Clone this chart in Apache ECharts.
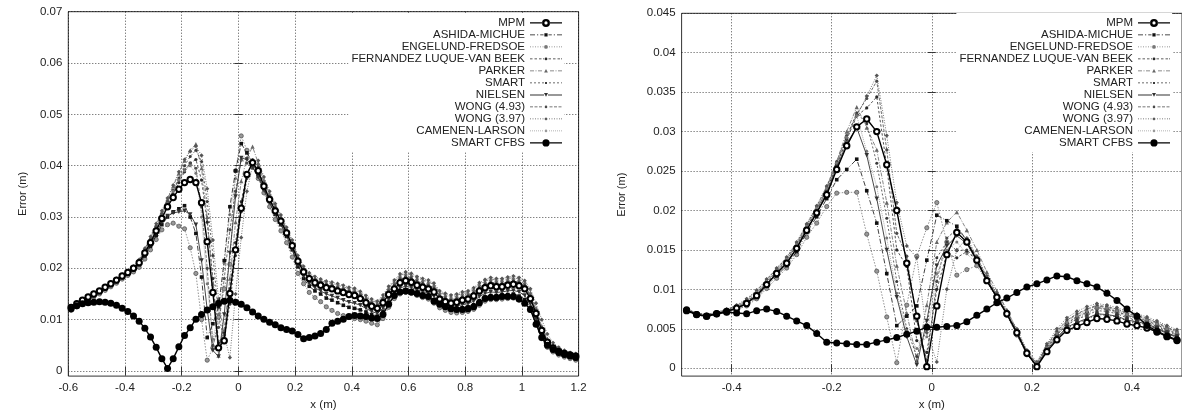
<!DOCTYPE html>
<html><head><meta charset="utf-8">
<script src="https://cdn.jsdelivr.net/npm/echarts@6/dist/echarts.min.js"></script>
<style>html,body{margin:0;padding:0;background:#fff}#c{width:1182px;height:416px}</style>
</head><body><div id="c"></div><script>
// ---------- data ----------
const xLeft = [-0.59,-0.57,-0.55,-0.53,-0.51,-0.49,-0.47,-0.45,-0.43,-0.41,-0.39,-0.37,-0.35,-0.33,-0.31,-0.29,-0.27,-0.25,-0.23,-0.21,-0.19,-0.17,-0.15,-0.13,-0.11,-0.09,-0.07,-0.05,-0.03,-0.01,0.01,0.03,0.05,0.07,0.09,0.11,0.13,0.15,0.17,0.19,0.21,0.23,0.25,0.27,0.29,0.31,0.33,0.35,0.37,0.39,0.41,0.43,0.45,0.47,0.49,0.51,0.53,0.55,0.57,0.59,0.61,0.63,0.65,0.67,0.69,0.71,0.73,0.75,0.77,0.79,0.81,0.83,0.85,0.87,0.89,0.91,0.93,0.95,0.97,0.99,1.01,1.03,1.05,1.07,1.09,1.11,1.13,1.15,1.17,1.19];
const xRight = [-0.49,-0.47,-0.45,-0.43,-0.41,-0.39,-0.37,-0.35,-0.33,-0.31,-0.29,-0.27,-0.25,-0.23,-0.21,-0.19,-0.17,-0.15,-0.13,-0.11,-0.09,-0.07,-0.05,-0.03,-0.01,0.01,0.03,0.05,0.07,0.09,0.11,0.13,0.15,0.17,0.19,0.21,0.23,0.25,0.27,0.29,0.31,0.33,0.35,0.37,0.39,0.41,0.43,0.45,0.47,0.49];

const names = ['MPM','ASHIDA-MICHUE','ENGELUND-FREDSOE','FERNANDEZ LUQUE-VAN BEEK','PARKER','SMART','NIELSEN','WONG (4.93)','WONG (3.97)','CAMENEN-LARSON','SMART CFBS'];

const xTicksLeft = [-0.6,-0.4,-0.2,0,0.2,0.4,0.6,0.8,1,1.2];
const yTicksLeft = [0,0.01,0.02,0.03,0.04,0.05,0.06,0.07];
const xTicksRight = [-0.4,-0.2,0,0.2,0.4];
const yTicksRight = [0,0.005,0.01,0.015,0.02,0.025,0.03,0.035,0.04,0.045];

// left panel
const L_MPM = [0.0124,0.0131,0.0138,0.0144,0.0150,0.0156,0.0163,0.0170,0.0177,0.0185,
0.0192,0.0200,0.0211,0.0230,0.0250,0.0273,0.0297,0.0320,0.0338,0.0354,
0.0367,0.0373,0.0367,0.0328,0.0252,0.0153,0.0045,0.0059,0.0151,0.0236,
0.0317,0.0383,0.0406,0.0390,0.0360,0.0334,0.0312,0.0292,0.0269,0.0244,
0.0214,0.0193,0.0180,0.0172,0.0167,0.0162,0.0160,0.0156,0.0153,0.0149,
0.0147,0.0141,0.0133,0.0126,0.0122,0.0133,0.0149,0.0160,0.0172,0.0176,
0.0173,0.0167,0.0163,0.0160,0.0154,0.0140,0.0135,0.0132,0.0134,0.0138,
0.0140,0.0146,0.0156,0.0162,0.0166,0.0164,0.0164,0.0167,0.0169,0.0166,
0.0160,0.0141,0.0112,0.0079,0.0056,0.0045,0.0038,0.0034,0.0031,0.0029];
const L_ASHIDA = [0.0121,0.0128,0.0135,0.0141,0.0147,0.0153,0.0160,0.0167,0.0174,0.0182,
0.0189,0.0197,0.0207,0.0224,0.0243,0.0264,0.0285,0.0300,0.0310,0.0316,
0.0322,0.0300,0.0268,0.0183,0.0065,0.0092,0.0125,0.0215,0.0320,0.0390,
0.0443,0.0425,0.0405,0.0382,0.0355,0.0330,0.0305,0.0285,0.0262,0.0236,
0.0203,0.0180,0.0165,0.0156,0.0150,0.0142,0.0138,0.0133,0.0128,0.0124,
0.0122,0.0119,0.0115,0.0110,0.0107,0.0116,0.0134,0.0148,0.0156,0.0158,
0.0156,0.0152,0.0149,0.0146,0.0139,0.0130,0.0125,0.0122,0.0122,0.0123,
0.0125,0.0129,0.0137,0.0144,0.0147,0.0147,0.0148,0.0149,0.0150,0.0146,
0.0139,0.0124,0.0096,0.0068,0.0050,0.0040,0.0034,0.0030,0.0027,0.0024];
const L_ENGELUND = [0.0118,0.0125,0.0132,0.0138,0.0144,0.0150,0.0157,0.0164,0.0171,0.0179,
0.0186,0.0193,0.0202,0.0218,0.0236,0.0256,0.0275,0.0285,0.0288,0.0282,
0.0277,0.0240,0.0190,0.0100,0.0021,0.0045,0.0105,0.0160,0.0208,0.0390,
0.0458,0.0430,0.0400,0.0375,0.0347,0.0320,0.0295,0.0273,0.0250,0.0222,
0.0190,0.0170,0.0153,0.0143,0.0135,0.0125,0.0118,0.0112,0.0108,0.0104,
0.0102,0.0100,0.0097,0.0093,0.0090,0.0102,0.0124,0.0141,0.0150,0.0153,
0.0151,0.0147,0.0143,0.0140,0.0132,0.0123,0.0118,0.0114,0.0113,0.0114,
0.0116,0.0120,0.0128,0.0136,0.0139,0.0139,0.0140,0.0141,0.0142,0.0138,
0.0132,0.0118,0.0090,0.0063,0.0046,0.0037,0.0031,0.0027,0.0024,0.0021];
const L_FERNANDEZ = [0.0123,0.0130,0.0137,0.0143,0.0149,0.0155,0.0162,0.0169,0.0176,0.0184,
0.0191,0.0199,0.0210,0.0230,0.0251,0.0275,0.0300,0.0322,0.0345,0.0367,
0.0388,0.0405,0.0412,0.0372,0.0290,0.0180,0.0055,0.0075,0.0160,0.0250,
0.0330,0.0385,0.0403,0.0392,0.0362,0.0336,0.0314,0.0294,0.0271,0.0246,
0.0216,0.0196,0.0183,0.0176,0.0171,0.0166,0.0164,0.0160,0.0157,0.0153,
0.0151,0.0145,0.0137,0.0130,0.0126,0.0138,0.0154,0.0165,0.0177,0.0181,
0.0178,0.0172,0.0168,0.0165,0.0159,0.0144,0.0139,0.0136,0.0138,0.0142,
0.0144,0.0150,0.0160,0.0166,0.0170,0.0168,0.0168,0.0171,0.0173,0.0170,
0.0164,0.0145,0.0115,0.0082,0.0058,0.0047,0.0040,0.0035,0.0032,0.0030];
const L_PARKER = [0.0126,0.0133,0.0140,0.0146,0.0152,0.0158,0.0165,0.0172,0.0179,0.0187,
0.0194,0.0203,0.0216,0.0238,0.0260,0.0285,0.0310,0.0335,0.0360,0.0385,
0.0410,0.0430,0.0442,0.0395,0.0300,0.0170,0.0030,0.0080,0.0180,0.0290,
0.0370,0.0415,0.0437,0.0405,0.0372,0.0345,0.0322,0.0300,0.0277,0.0252,
0.0222,0.0201,0.0188,0.0181,0.0176,0.0172,0.0170,0.0167,0.0164,0.0160,
0.0158,0.0152,0.0144,0.0137,0.0133,0.0145,0.0162,0.0174,0.0186,0.0190,
0.0187,0.0181,0.0177,0.0174,0.0168,0.0153,0.0148,0.0145,0.0147,0.0151,
0.0153,0.0159,0.0169,0.0175,0.0179,0.0177,0.0177,0.0180,0.0182,0.0179,
0.0173,0.0153,0.0123,0.0088,0.0063,0.0051,0.0043,0.0038,0.0035,0.0033];
const L_SMART = [0.0125,0.0132,0.0139,0.0145,0.0151,0.0157,0.0164,0.0171,0.0178,0.0186,
0.0193,0.0201,0.0213,0.0234,0.0255,0.0279,0.0304,0.0328,0.0352,0.0376,
0.0400,0.0418,0.0430,0.0408,0.0330,0.0225,0.0110,0.0060,0.0130,0.0225,
0.0310,0.0375,0.0412,0.0398,0.0366,0.0340,0.0318,0.0297,0.0274,0.0249,
0.0219,0.0198,0.0185,0.0178,0.0173,0.0168,0.0166,0.0162,0.0159,0.0155,
0.0153,0.0147,0.0139,0.0132,0.0128,0.0140,0.0156,0.0168,0.0180,0.0184,
0.0181,0.0175,0.0171,0.0168,0.0162,0.0147,0.0142,0.0139,0.0141,0.0145,
0.0147,0.0153,0.0163,0.0169,0.0173,0.0171,0.0171,0.0174,0.0176,0.0173,
0.0167,0.0147,0.0118,0.0084,0.0060,0.0048,0.0041,0.0036,0.0033,0.0031];
const L_NIELSEN = [0.0122,0.0129,0.0136,0.0142,0.0148,0.0154,0.0161,0.0168,0.0175,0.0183,
0.0190,0.0198,0.0208,0.0226,0.0246,0.0268,0.0290,0.0302,0.0308,0.0310,
0.0312,0.0305,0.0285,0.0215,0.0120,0.0040,0.0028,0.0110,0.0230,0.0340,
0.0415,0.0412,0.0398,0.0378,0.0352,0.0328,0.0305,0.0286,0.0263,0.0238,
0.0206,0.0184,0.0170,0.0162,0.0156,0.0150,0.0146,0.0142,0.0138,0.0134,
0.0132,0.0128,0.0122,0.0116,0.0112,0.0122,0.0139,0.0152,0.0162,0.0165,
0.0163,0.0158,0.0155,0.0152,0.0145,0.0134,0.0129,0.0126,0.0127,0.0129,
0.0131,0.0136,0.0145,0.0151,0.0154,0.0153,0.0154,0.0156,0.0157,0.0154,
0.0147,0.0130,0.0102,0.0072,0.0052,0.0042,0.0036,0.0032,0.0029,0.0026];
const L_WONG493 = [0.0125,0.0132,0.0139,0.0145,0.0151,0.0157,0.0164,0.0171,0.0178,0.0186,
0.0193,0.0202,0.0214,0.0235,0.0257,0.0282,0.0306,0.0330,0.0352,0.0372,
0.0392,0.0405,0.0395,0.0320,0.0200,0.0050,0.0085,0.0180,0.0275,0.0350,
0.0412,0.0405,0.0395,0.0378,0.0358,0.0334,0.0312,0.0293,0.0270,0.0246,
0.0217,0.0197,0.0184,0.0177,0.0172,0.0167,0.0165,0.0161,0.0158,0.0154,
0.0152,0.0146,0.0138,0.0131,0.0127,0.0139,0.0155,0.0166,0.0178,0.0182,
0.0179,0.0173,0.0169,0.0166,0.0160,0.0145,0.0140,0.0137,0.0139,0.0143,
0.0145,0.0151,0.0161,0.0167,0.0171,0.0169,0.0169,0.0172,0.0174,0.0171,
0.0165,0.0146,0.0116,0.0083,0.0059,0.0048,0.0041,0.0036,0.0033,0.0030];
const L_WONG397 = [0.0126,0.0133,0.0140,0.0146,0.0152,0.0158,0.0165,0.0172,0.0180,0.0188,
0.0195,0.0204,0.0217,0.0239,0.0262,0.0287,0.0312,0.0337,0.0362,0.0388,
0.0412,0.0428,0.0438,0.0420,0.0355,0.0255,0.0140,0.0070,0.0026,0.0150,
0.0260,0.0350,0.0400,0.0410,0.0378,0.0350,0.0326,0.0304,0.0280,0.0255,
0.0225,0.0204,0.0191,0.0184,0.0179,0.0175,0.0173,0.0170,0.0167,0.0163,
0.0161,0.0155,0.0147,0.0140,0.0136,0.0148,0.0165,0.0177,0.0189,0.0193,
0.0190,0.0184,0.0180,0.0177,0.0171,0.0156,0.0151,0.0148,0.0150,0.0154,
0.0156,0.0162,0.0172,0.0178,0.0182,0.0180,0.0180,0.0183,0.0185,0.0182,
0.0176,0.0160,0.0132,0.0100,0.0072,0.0055,0.0046,0.0040,0.0036,0.0034];
const L_CAMENEN = [0.0124,0.0131,0.0138,0.0144,0.0150,0.0156,0.0163,0.0170,0.0177,0.0185,
0.0192,0.0200,0.0212,0.0232,0.0253,0.0277,0.0302,0.0326,0.0350,0.0372,
0.0390,0.0400,0.0385,0.0300,0.0170,0.0062,0.0110,0.0210,0.0305,0.0375,
0.0410,0.0425,0.0405,0.0385,0.0360,0.0336,0.0314,0.0294,0.0271,0.0246,
0.0216,0.0195,0.0182,0.0175,0.0170,0.0165,0.0163,0.0159,0.0156,0.0152,
0.0150,0.0144,0.0136,0.0129,0.0125,0.0136,0.0152,0.0163,0.0175,0.0179,
0.0176,0.0170,0.0166,0.0163,0.0157,0.0143,0.0138,0.0135,0.0137,0.0141,
0.0143,0.0149,0.0159,0.0165,0.0169,0.0167,0.0167,0.0170,0.0172,0.0169,
0.0163,0.0144,0.0114,0.0081,0.0057,0.0046,0.0039,0.0035,0.0032,0.0029];
const L_CFBS = [0.0121,0.0127,0.0131,0.0133,0.0134,0.0135,0.0134,0.0132,0.0128,0.0122,
0.0116,0.0107,0.0097,0.0083,0.0066,0.0046,0.0024,0.0005,0.0024,0.0047,
0.0069,0.0084,0.0101,0.0110,0.0119,0.0125,0.0132,0.0136,0.0138,0.0134,
0.0130,0.0123,0.0115,0.0107,0.0101,0.0095,0.0090,0.0084,0.0081,0.0078,
0.0071,0.0063,0.0065,0.0068,0.0073,0.0081,0.0093,0.0097,0.0101,0.0106,
0.0108,0.0107,0.0106,0.0103,0.0102,0.0110,0.0130,0.0147,0.0154,0.0156,
0.0154,0.0151,0.0147,0.0145,0.0136,0.0130,0.0125,0.0121,0.0120,0.0120,
0.0121,0.0125,0.0133,0.0141,0.0143,0.0143,0.0145,0.0145,0.0145,0.0140,
0.0132,0.0120,0.0091,0.0065,0.0050,0.0042,0.0036,0.0032,0.0029,0.0026];

// right panel
const R_MPM = [0.0073,0.0068,0.0066,0.0069,0.0072,0.0076,0.0082,0.0092,0.0106,0.0120,
0.0133,0.0152,0.0175,0.0197,0.0220,0.0252,0.0282,0.0306,0.0316,0.0300,
0.0258,0.0200,0.0133,0.0066,0.0002,0.0079,0.0144,0.0172,0.0160,0.0137,
0.0111,0.0090,0.0069,0.0045,0.0019,0.0002,0.0021,0.0036,0.0048,0.0053,
0.0058,0.0063,0.0062,0.0060,0.0056,0.0054,0.0051,0.0046,0.0040,0.0035];
const R_ASHIDA = [0.0073,0.0068,0.0066,0.0069,0.0072,0.0075,0.0080,0.0090,0.0104,0.0117,
0.0130,0.0148,0.0172,0.0192,0.0215,0.0239,0.0252,0.0265,0.0225,0.0184,
0.0120,0.0054,0.0066,0.0079,0.0137,0.0194,0.0187,0.0180,0.0162,0.0138,
0.0112,0.0090,0.0068,0.0043,0.0018,0.0004,0.0022,0.0038,0.0050,0.0057,
0.0062,0.0068,0.0067,0.0065,0.0060,0.0058,0.0055,0.0050,0.0044,0.0039];
const R_ENGELUND = [0.0072,0.0067,0.0065,0.0068,0.0071,0.0074,0.0079,0.0088,0.0101,0.0114,
0.0127,0.0144,0.0166,0.0184,0.0205,0.0222,0.0223,0.0223,0.0170,0.0123,
0.0065,0.0007,0.0080,0.0142,0.0178,0.0210,0.0160,0.0118,0.0125,0.0130,
0.0110,0.0089,0.0067,0.0042,0.0017,0.0005,0.0025,0.0042,0.0055,0.0063,
0.0069,0.0076,0.0074,0.0071,0.0066,0.0063,0.0059,0.0054,0.0048,0.0043];
const R_FERNANDEZ = [0.0074,0.0069,0.0067,0.0070,0.0073,0.0077,0.0084,0.0095,0.0109,0.0123,
0.0137,0.0156,0.0179,0.0201,0.0226,0.0258,0.0290,0.0320,0.0330,0.0344,
0.0256,0.0150,0.0129,0.0035,0.0020,0.0100,0.0145,0.0140,0.0148,0.0137,
0.0112,0.0090,0.0069,0.0046,0.0020,0.0005,0.0026,0.0043,0.0057,0.0065,
0.0071,0.0077,0.0075,0.0072,0.0067,0.0064,0.0060,0.0055,0.0049,0.0044];
const R_PARKER = [0.0074,0.0069,0.0067,0.0070,0.0074,0.0078,0.0085,0.0096,0.0110,0.0124,
0.0138,0.0157,0.0180,0.0202,0.0228,0.0262,0.0300,0.0331,0.0305,0.0277,
0.0210,0.0130,0.0070,0.0010,0.0080,0.0160,0.0185,0.0198,0.0175,0.0150,
0.0122,0.0098,0.0074,0.0048,0.0021,0.0006,0.0028,0.0046,0.0060,0.0068,
0.0074,0.0079,0.0077,0.0074,0.0069,0.0066,0.0062,0.0057,0.0051,0.0046];
const R_SMART = [0.0073,0.0068,0.0066,0.0069,0.0073,0.0077,0.0084,0.0094,0.0108,0.0122,
0.0136,0.0155,0.0178,0.0200,0.0225,0.0258,0.0292,0.0324,0.0310,0.0260,
0.0190,0.0110,0.0050,0.0015,0.0050,0.0140,0.0160,0.0149,0.0150,0.0138,
0.0113,0.0091,0.0070,0.0045,0.0019,0.0004,0.0025,0.0042,0.0055,0.0062,
0.0067,0.0073,0.0072,0.0069,0.0064,0.0061,0.0058,0.0053,0.0047,0.0042];
const R_NIELSEN = [0.0073,0.0068,0.0066,0.0069,0.0072,0.0076,0.0083,0.0093,0.0107,0.0121,
0.0134,0.0153,0.0176,0.0198,0.0222,0.0255,0.0285,0.0305,0.0270,0.0215,
0.0150,0.0090,0.0040,0.0004,0.0060,0.0130,0.0155,0.0168,0.0158,0.0136,
0.0110,0.0089,0.0068,0.0044,0.0018,0.0003,0.0023,0.0039,0.0052,0.0058,
0.0063,0.0069,0.0068,0.0066,0.0061,0.0059,0.0056,0.0051,0.0045,0.0040];
const R_WONG493 = [0.0075,0.0070,0.0068,0.0071,0.0074,0.0079,0.0087,0.0098,0.0112,0.0126,
0.0140,0.0159,0.0182,0.0205,0.0230,0.0262,0.0295,0.0322,0.0342,0.0364,
0.0277,0.0171,0.0142,0.0060,0.0010,0.0110,0.0165,0.0176,0.0163,0.0140,
0.0115,0.0093,0.0071,0.0047,0.0021,0.0006,0.0029,0.0047,0.0061,0.0069,
0.0075,0.0080,0.0078,0.0075,0.0070,0.0067,0.0063,0.0058,0.0052,0.0047];
const R_WONG397 = [0.0075,0.0070,0.0068,0.0071,0.0075,0.0080,0.0088,0.0099,0.0113,0.0127,
0.0141,0.0160,0.0183,0.0206,0.0231,0.0260,0.0292,0.0320,0.0345,0.0371,
0.0295,0.0210,0.0155,0.0140,0.0045,0.0008,0.0100,0.0150,0.0165,0.0142,
0.0117,0.0095,0.0073,0.0050,0.0023,0.0008,0.0031,0.0050,0.0064,0.0072,
0.0078,0.0082,0.0080,0.0077,0.0072,0.0069,0.0065,0.0060,0.0054,0.0049];
const R_CAMENEN = [0.0074,0.0069,0.0067,0.0070,0.0073,0.0078,0.0085,0.0096,0.0110,0.0124,
0.0138,0.0157,0.0180,0.0203,0.0228,0.0260,0.0293,0.0320,0.0275,0.0230,
0.0165,0.0095,0.0048,0.0025,0.0040,0.0120,0.0150,0.0160,0.0145,0.0133,
0.0111,0.0090,0.0069,0.0046,0.0020,0.0005,0.0026,0.0044,0.0058,0.0066,
0.0072,0.0077,0.0076,0.0073,0.0068,0.0065,0.0061,0.0056,0.0050,0.0045];
const R_CFBS = [0.0074,0.0068,0.0066,0.0069,0.0071,0.0070,0.0069,0.0073,0.0075,0.0072,
0.0066,0.0060,0.0054,0.0044,0.0033,0.0032,0.0031,0.0030,0.0030,0.0033,
0.0036,0.0039,0.0043,0.0047,0.0052,0.0052,0.0053,0.0054,0.0059,0.0067,
0.0075,0.0083,0.0089,0.0096,0.0103,0.0107,0.0112,0.0117,0.0116,0.0111,
0.0107,0.0103,0.0095,0.0086,0.0075,0.0066,0.0054,0.0047,0.0041,0.0036];

const leftSets = [L_MPM,L_ASHIDA,L_ENGELUND,L_FERNANDEZ,L_PARKER,L_SMART,L_NIELSEN,L_WONG493,L_WONG397,L_CAMENEN,L_CFBS];
const rightSets = [R_MPM,R_ASHIDA,R_ENGELUND,R_FERNANDEZ,R_PARKER,R_SMART,R_NIELSEN,R_WONG493,R_WONG397,R_CAMENEN,R_CFBS];

// ---------- styles ----------
const FONT = '"Liberation Sans", Arial, Helvetica, sans-serif';
const STY = [
  {color:'#000', lw:1.4, dash:'solid', symbol:'emptyCircle', size:5.4, bw:2.4, z:9},
  {color:'#111', lw:0.8, dash:[5,2,1,2], symbol:'rect', size:3.6, z:4},
  {color:'#777', lw:0.8, dash:[1.5,1.5], symbol:'circle', size:4.2, mcolor:'#999', bcolor:'#555', bw:0.8, z:3},
  {color:'#2a2a2a', lw:0.8, dash:[2.5,2], symbol:'circle', size:3.2, z:3},
  {color:'#666', lw:0.8, dash:[4,1.5,1,1.5], symbol:'triangle', size:4.2, z:3},
  {color:'#3a3a3a', lw:0.8, dash:[2,2], symbol:'circle', size:3, z:3},
  {color:'#333', lw:0.9, dash:'solid', symbol:'triangle', rot:180, size:4.5, z:4},
  {color:'#4a4a4a', lw:0.8, dash:[3,1.5], symbol:'circle', size:3.2, z:3},
  {color:'#555', lw:0.8, dash:[1,1.5], symbol:'diamond', size:4.2, z:3},
  {color:'#999', lw:0.8, dash:[1,1], symbol:'circle', size:3, mcolor:'#777', z:3},
  {color:'#000', lw:1.4, dash:'solid', symbol:'circle', size:7, z:10}
];
const BB = 'M0,0L0,0M32,8L32,8';
function dashes(list, h){ // list of [x,w]
  const y = 4 - h/2;
  return list.map(d => 'M'+d[0]+','+y+'h'+d[1]+'v'+h+'h-'+d[1]+'z').join('');
}
const ICONS = [
  'path://' + dashes([[0,12.2],[19.8,12.2]],1.4) + 'M20,4A4,4 0 1 0 12,4A4,4 0 1 0 20,4ZM17.6,4A1.6,1.6 0 1 1 14.4,4A1.6,1.6 0 1 1 17.6,4Z',
  'path://' + BB + dashes([[0,5],[7,1.2],[10.2,3.3],[18.5,3.3],[23.8,1.2],[27,5]],0.9) + 'M14.4,2.4h3.2v3.2h-3.2z',
  'path://' + BB + dashes([[0,1],[2.5,1],[5,1],[7.5,1],[10,1],[12.5,1],[19,1],[21.5,1],[24,1],[26.5,1],[29,1],[31,1]],0.9) + 'M17.9,4A1.9,1.9 0 1 0 14.1,4A1.9,1.9 0 1 0 17.9,4Z',
  'path://' + BB + dashes([[0,2.5],[4.5,2.5],[9,2.5],[13,1],[18.5,2.5],[23,2.5],[27.5,2.5],[31,1]],0.8) + 'M17.4,4A1.4,1.4 0 1 0 14.6,4A1.4,1.4 0 1 0 17.4,4Z',
  'path://' + BB + dashes([[0,4],[5.5,1],[8,4],[20,4],[25.5,1],[28,4]],0.9) + 'M14.1,5.6L16,2.2L17.9,5.6Z',
  'path://' + BB + dashes([[0,2],[4,2],[8,2],[12,2],[19,2],[23,2],[27,2],[31,1]],0.8) + 'M15,3h2v2h-2z',
  'path://' + BB + dashes([[0,14],[18,14]],1) + 'M14,2.2h4L16,5.8Z',
  'path://' + BB + dashes([[0,3],[4.5,3],[9,3],[19.5,3],[24,3],[28.5,3]],0.8) + 'M17.3,4A1.3,1.3 0 1 0 14.7,4A1.3,1.3 0 1 0 17.3,4Z',
  'path://' + BB + dashes([[0,1],[2.5,1],[5,1],[7.5,1],[10,1],[12.5,1],[19,1],[21.5,1],[24,1],[26.5,1],[29,1],[31,1]],0.8) + 'M16,2.3L17.7,4L16,5.7L14.3,4Z',
  'path://' + BB + dashes([[0,1],[2,1],[4,1],[6,1],[8,1],[10,1],[12,1],[19,1],[21,1],[23,1],[25,1],[27,1],[29,1],[31,1]],0.9) + 'M17.3,4A1.3,1.3 0 1 0 14.7,4A1.3,1.3 0 1 0 17.3,4Z',
  'path://' + dashes([[0,12.4],[19.6,12.4]],1.4) + 'M19.6,4A3.6,3.6 0 1 0 12.4,4A3.6,3.6 0 1 0 19.6,4Z'
];

// ---------- chart ----------
const fmt = v => String(parseFloat(Number(v).toFixed(4)));
const txt = {fontFamily: FONT, fontSize: 11.5, color: '#222'};

function xAx(grid, min, max, ticks, top){
  return {
    gridIndex: grid, type: 'value', min: min, max: max, position: top ? 'top' : 'bottom',
    axisLine: {show: false},
    axisTick: {show: true, inside: true, length: 4, customValues: ticks, lineStyle: {color: '#333', width: 1}},
    axisLabel: {show: !top, customValues: ticks, formatter: fmt, margin: 6, ...txt},
    splitLine: {show: !top, lineStyle: {type: [1,2], color: '#000', width: 0.7}},
    name: top ? '' : 'x (m)', nameLocation: 'middle', nameGap: 20,
    nameTextStyle: {fontFamily: FONT, fontSize: 11.5, color: '#222'}
  };
}
function yAx(grid, min, max, ticks, right, gap){
  return {
    gridIndex: grid, type: 'value', min: min, max: max, position: right ? 'right' : 'left',
    axisLine: {show: false},
    axisTick: {show: true, inside: true, length: 4, customValues: ticks, lineStyle: {color: '#333', width: 1}},
    axisLabel: {show: !right, customValues: ticks, formatter: fmt, margin: 6, ...txt},
    splitLine: {show: !right, lineStyle: {type: [1,2], color: '#000', width: 0.7}},
    name: right ? '' : 'Error (m)', nameLocation: 'middle', nameGap: gap,
    nameTextStyle: {fontFamily: FONT, fontSize: 11, color: '#222'}
  };
}
function mkLegend(right){
  return {
    orient: 'vertical', align: 'right', right: right, top: 12.9,
    itemGap: 0, itemWidth: 32, itemHeight: 8, padding: [4,2,3,3],
    backgroundColor: '#fff', selectedMode: false,
    textStyle: {fontFamily: FONT, fontSize: 11.5, color: '#222', lineHeight: 11.6},
    data: names.map((n,k) => ({name: n, icon: ICONS[k],
      itemStyle: {color: STY[k].color, borderWidth: 0, opacity: 1}}))
  };
}

const series = [];
names.forEach((n,k) => {
  const st = STY[k];
  [0,1].forEach(p => {
    const xs = p ? xRight : xLeft;
    const ys = p ? rightSets[k] : leftSets[k];
    series.push({
      name: n, type: 'line', xAxisIndex: p ? 2 : 0, yAxisIndex: p ? 2 : 0,
      data: xs.map((x,i) => [x, ys[i]]),
      symbol: st.symbol, symbolSize: st.size, symbolRotate: st.rot || 0,
      showAllSymbol: true,
      lineStyle: {color: st.color, width: st.lw, type: st.dash},
      itemStyle: {color: st.mcolor || st.color, borderColor: st.bcolor || st.color, borderWidth: st.bw || 0},
      z: st.z, animation: false, silent: true, legendHoverLink: false,
      emphasis: {disabled: true}
    });
  });
});

const chart = echarts.init(document.getElementById('c'));
chart.setOption({
  backgroundColor: '#fff',
  animation: false,
  grid: [
    {left: 68.3, top: 11.7, width: 510.3, height: 365.1, show: true, borderColor: '#333', borderWidth: 1, backgroundColor: 'transparent'},
    {left: 681.6, top: 13.3, width: 501.5, height: 362.9, show: true, borderColor: '#333', borderWidth: 1, backgroundColor: 'transparent'}
  ],
  xAxis: [
    xAx(0, -0.6, 1.2, xTicksLeft, false),
    xAx(0, -0.6, 1.2, xTicksLeft, true),
    xAx(1, -0.5, 0.5, xTicksRight, false),
    xAx(1, -0.5, 0.5, xTicksRight, true)
  ],
  yAxis: [
    yAx(0, -0.001, 0.07, yTicksLeft, false, 40),
    yAx(0, -0.001, 0.07, yTicksLeft, true, 0),
    yAx(1, -0.001, 0.045, yTicksRight, false, 54),
    yAx(1, -0.001, 0.045, yTicksRight, true, 0)
  ],
  legend: [mkLegend(618), mkLegend(10)],
  series: series
});
</script></body></html>
